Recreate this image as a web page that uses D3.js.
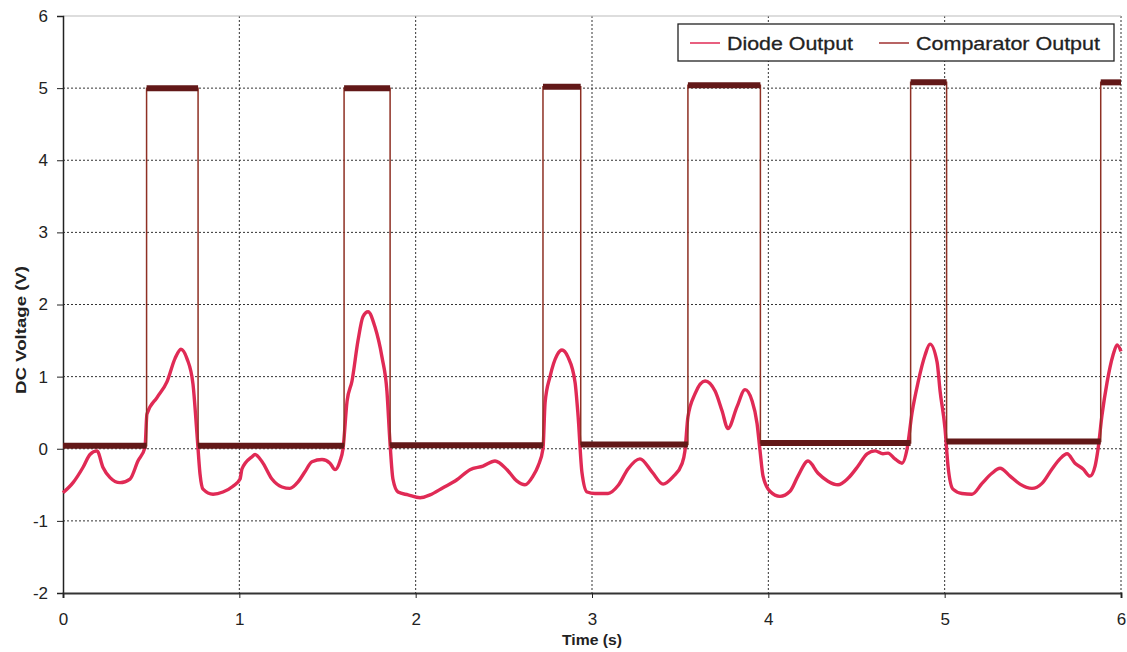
<!DOCTYPE html>
<html>
<head>
<meta charset="utf-8">
<script src="https://cdn.jsdelivr.net/npm/d3@7"></script>
<style>
  html, body { margin: 0; padding: 0; background: #ffffff; }
  svg { display: block; }
  text { font-family: "Liberation Sans", Arial, sans-serif; fill: #222; }
</style>
</head>
<body>
<svg id="chart" width="1127" height="652"></svg>
<script>
// ---- Data ----
const xTicks = [0, 1, 2, 3, 4, 5, 6];
const yTicks = [-2, -1, 0, 1, 2, 3, 4, 5, 6];
const seriesNames = ["Diode Output", "Comparator Output"];

const diodeTime = [0.000, 0.057, 0.113, 0.153, 0.193, 0.227, 0.267, 0.323, 0.380, 0.425, 0.465, 0.476,
  0.533, 0.590, 0.635, 0.669, 0.703, 0.737, 0.760, 0.777, 0.794, 0.851, 0.907, 0.964, 1.004,
  1.015, 1.072, 1.089, 1.129, 1.185, 1.242, 1.287, 1.333, 1.372, 1.412, 1.469, 1.514, 1.543,
  1.571, 1.588, 1.611, 1.639, 1.673, 1.701, 1.730, 1.769, 1.809, 1.837, 1.854, 1.871, 1.900,
  1.957, 2.025, 2.081, 2.155, 2.234, 2.308, 2.382, 2.450, 2.518, 2.575, 2.620, 2.665, 2.694,
  2.722, 2.734, 2.762, 2.802, 2.830, 2.864, 2.904, 2.921, 2.943, 2.972, 3.017, 3.091, 3.148,
  3.204, 3.272, 3.340, 3.403, 3.459, 3.510, 3.527, 3.544, 3.584, 3.641, 3.698, 3.737, 3.771,
  3.822, 3.868, 3.907, 3.936, 3.953, 3.970, 4.009, 4.066, 4.123, 4.168, 4.225, 4.282, 4.338,
  4.395, 4.452, 4.509, 4.560, 4.605, 4.650, 4.679, 4.718, 4.758, 4.787, 4.815, 4.849, 4.889,
  4.917, 4.957, 4.974, 5.002, 5.019, 5.047, 5.098, 5.155, 5.212, 5.268, 5.314, 5.371, 5.427,
  5.495, 5.552, 5.609, 5.654, 5.694, 5.739, 5.785, 5.824, 5.853, 5.870, 5.892, 5.921, 5.955,
  5.978, 6.000];
const diodeVolt = [-0.61, -0.47, -0.26, -0.08, -0.03, -0.26, -0.40, -0.47, -0.42, -0.17, 0.02, 0.48,
  0.71, 0.93, 1.25, 1.38, 1.25, 0.90, 0.20, -0.35, -0.56, -0.63, -0.60, -0.52, -0.42,
  -0.28, -0.11, -0.08, -0.18, -0.42, -0.53, -0.55, -0.46, -0.32, -0.18, -0.15, -0.20, -0.29,
  -0.17, 0.00, 0.66, 0.94, 1.50, 1.83, 1.90, 1.69, 1.27, 0.80, 0.10, -0.42, -0.60,
  -0.64, -0.68, -0.64, -0.54, -0.43, -0.29, -0.24, -0.17, -0.29, -0.45, -0.50, -0.38, -0.24,
  0.00, 0.64, 1.00, 1.30, 1.37, 1.27, 0.92, 0.46, -0.33, -0.60, -0.62, -0.62, -0.51,
  -0.28, -0.14, -0.32, -0.49, -0.39, -0.21, -0.03, 0.44, 0.76, 0.94, 0.80, 0.53, 0.28,
  0.58, 0.82, 0.67, 0.35, -0.03, -0.38, -0.59, -0.66, -0.59, -0.38, -0.17, -0.34, -0.45,
  -0.50, -0.41, -0.24, -0.07, -0.03, -0.07, -0.06, -0.14, -0.20, 0.00, 0.50, 0.92, 1.30,
  1.45, 1.20, 0.80, 0.28, -0.24, -0.56, -0.62, -0.63, -0.48, -0.34, -0.27, -0.38, -0.49,
  -0.55, -0.48, -0.28, -0.14, -0.07, -0.20, -0.28, -0.38, -0.24, 0.00, 0.46, 0.92, 1.30,
  1.44, 1.35];

const compTime = [0.000, 0.474, 0.474, 0.766, 0.766, 1.594, 1.594, 1.855, 1.855, 2.722, 2.722, 2.936,
  2.936, 3.544, 3.544, 3.955, 3.955, 4.807, 4.807, 5.011, 5.011, 5.885, 5.885, 6.000];
const compVolt = [0.04, 0.04, 5.00, 5.00, 0.04, 0.04, 5.00, 5.00, 0.05, 0.05, 5.02, 5.02,
  0.06, 0.06, 5.04, 5.04, 0.08, 0.08, 5.08, 5.08, 0.10, 0.10, 5.08, 5.08];

// ---- Layout ----
const svg = d3.select("#chart");
const plotLeft = 63, plotRight = 1121, plotTop = 16, plotBottom = 593;
const x = d3.scaleLinear().domain([0, 6]).range([plotLeft, plotRight]);
const y = d3.scaleLinear().domain([-2, 6]).range([plotBottom, plotTop]);

const diodeColor = "#e02a55";
const compColor = "#621818";

// Grid
const grid = svg.append("g");
grid.selectAll("line.hg").data(yTicks.filter(d => d > -2 && d < 6)).join("line")
  .attr("x1", plotLeft).attr("x2", plotRight)
  .attr("y1", d => y(d)).attr("y2", d => y(d))
  .attr("stroke", "#333").attr("stroke-width", 1).attr("stroke-dasharray", "2,2");
grid.selectAll("line.vg").data(xTicks.filter(d => d > 0)).join("line")
  .attr("y1", plotTop).attr("y2", plotBottom)
  .attr("x1", d => x(d)).attr("x2", d => x(d))
  .attr("stroke", "#333").attr("stroke-width", 1).attr("stroke-dasharray", "2,2");
// top border
svg.append("line").attr("x1", plotLeft).attr("x2", plotRight).attr("y1", plotTop).attr("y2", plotTop)
  .attr("stroke", "#bbb").attr("stroke-width", 1);

// Axes
const fmt = d => String(d);
const yAxis = d3.axisLeft(y).tickValues(yTicks).tickSize(6).tickPadding(9).tickFormat(fmt);
const gy = svg.append("g").attr("transform", `translate(${plotLeft},0)`).call(yAxis);
gy.select(".domain").attr("stroke", "#222").attr("stroke-width", 1.5);
gy.selectAll(".tick line").attr("stroke", "#222");
gy.selectAll(".tick text").style("font-size", "17px").attr("fill", "#222");

const xAxis = d3.axisBottom(x).tickValues(xTicks).tickSize(5).tickPadding(15).tickFormat(fmt);
const gx = svg.append("g").attr("transform", `translate(0,${plotBottom})`).call(xAxis);
gx.select(".domain").attr("stroke", "#333").attr("stroke-width", 2);
gx.selectAll(".tick line").attr("stroke", "#222");
gx.selectAll(".tick text").style("font-size", "17px").attr("fill", "#222");

// Axis titles
svg.append("text").attr("x", 592).attr("y", 645).attr("text-anchor", "middle")
  .style("font-size", "15px").style("font-weight", "bold")
  .attr("textLength", 60).attr("lengthAdjust", "spacingAndGlyphs").text("Time (s)");
svg.append("text").attr("transform", "translate(26,330) rotate(-90)").attr("text-anchor", "middle")
  .style("font-size", "15px").style("font-weight", "bold")
  .attr("textLength", 128).attr("lengthAdjust", "spacingAndGlyphs").text("DC Voltage (V)");

// Diode series
const diodeData = diodeTime.map((t, i) => ({ t, v: diodeVolt[i] }));
const smooth = d3.line().curve(d3.curveMonotoneX).x(d => x(d.t)).y(d => y(d.v));
const straight = d3.line().x(d => x(d.t)).y(d => y(d.v));
svg.append("path").datum(diodeData).attr("d", smooth)
  .attr("fill", "none").attr("stroke", diodeColor).attr("stroke-width", 3.4)
  .attr("stroke-linejoin", "round");

// Comparator series: thin full trace + thicker plateaus (noise band)
const compData = compTime.map((t, i) => ({ t, v: compVolt[i] }));
svg.append("path").datum(compData).attr("d", straight)
  .attr("fill", "none").attr("stroke", "#8e3024").attr("stroke-width", 1.5);
const plateaus = [];
for (let i = 0; i < compData.length - 1; i++) {
  if (compData[i].v === compData[i + 1].v) plateaus.push([compData[i], compData[i + 1]]);
}
svg.append("g").selectAll("line").data(plateaus).join("line")
  .attr("x1", d => x(d[0].t)).attr("x2", d => x(d[1].t))
  .attr("y1", d => y(d[0].v)).attr("y2", d => y(d[1].v))
  .attr("stroke", compColor).attr("stroke-width", 6);

// Legend
const lg = svg.append("g");
lg.append("rect").attr("x", 678).attr("y", 24).attr("width", 436).attr("height", 37)
  .attr("fill", "#fff").attr("stroke", "#222").attr("stroke-width", 1.3);
const legendItems = [
  { name: seriesNames[0], color: diodeColor, lx: 690, tx: 727, w: 126 },
  { name: seriesNames[1], color: "#a03030", lx: 879, tx: 916, w: 184 }
];
legendItems.forEach(it => {
  lg.append("line").attr("x1", it.lx).attr("x2", it.lx + 30).attr("y1", 43).attr("y2", 43)
    .attr("stroke", it.color).attr("stroke-width", 1.5);
  lg.append("text").attr("x", it.tx).attr("y", 49.5).style("font-size", "19px")
    .attr("textLength", it.w).attr("lengthAdjust", "spacingAndGlyphs")
    .attr("stroke", "#222").attr("stroke-width", 0.3).text(it.name);
});
</script>
</body>
</html>
